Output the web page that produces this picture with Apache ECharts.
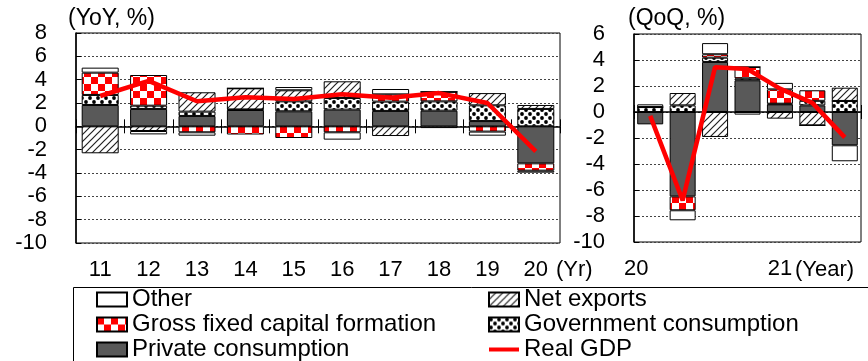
<!DOCTYPE html>
<html>
<head>
<meta charset="utf-8">
<script src="https://cdn.jsdelivr.net/npm/echarts@6/dist/echarts.min.js"></script>
<style>
  html, body { margin: 0; padding: 0; background: #fff; }
  #chart { width: 868px; height: 361px; }
</style>
</head>
<body>
<div id="chart"></div>
<script>
// ---- Annual contributions (YoY, %) ----
const years = ['11', '12', '13', '14', '15', '16', '17', '18', '19', '20'];
const yoyPrivate = [1.83, 1.49, 0.89, 1.40, 1.29, 1.43, 1.32, 1.34, 0.45, -3.17];
const yoyGov     = [0.86, 0.28, 0.37, 0.05, 0.85, 1.00, 0.80, 0.80, 1.35, 1.49];
const yoyGfcf    = [1.91, 2.63, -0.51, -0.70, -1.00, -0.51, 0.62, 0.82, -0.45, -0.63];
const yoyNetExp  = [-2.31, -0.40, 1.66, 1.81, 0.95, 1.43, -0.83, 0, 1.05, 0.34];
const yoyOther   = [0.43, -0.29, -0.29, 0, 0.28, -0.63, 0.46, -0.15, -0.35, -0.17];
const yoyGdp     = [2.6, 3.9, 2.15, 2.5, 2.35, 2.75, 2.45, 2.85, 2.0, -2.15];

// ---- Quarterly contributions (QoQ, %) ----
const quarters = ['20Q1', '20Q2', '20Q3', '20Q4', '21Q1', '21Q2', '21Q3'];
const quarterTickLabels = ['20', '', '', '', '21', '', ''];
const qPrivate = [-0.95, -6.49, 3.85, 2.44, 0.59, 0.51, -2.56];
const qGov     = [0.38, 0.51, 0.33, 0.15, 0.05, 0.35, 0.85];
const qGfcf    = [0, -1.07, 0.26, 0.87, 1.10, 0.81, 0];
const qNetExp  = [0, 0.95, -1.92, 0, -0.51, -1.03, 1.02];
const qOther   = [0.21, -0.77, 0.86, -0.20, 0.50, 0, -1.23];
const qGdp     = [-0.3, -6.8, 3.45, 3.3, 1.8, 0.7, -1.95];

const FONT = '"Liberation Sans", Arial, sans-serif';

// ---- Fill patterns ----
function makeCanvas(w, h, draw) {
  const c = document.createElement('canvas');
  c.width = w; c.height = h;
  const ctx = c.getContext('2d');
  ctx.fillStyle = '#fff';
  ctx.fillRect(0, 0, w, h);
  draw(ctx);
  return c;
}
const checkerCanvas = makeCanvas(14, 14, ctx => {
  ctx.fillStyle = '#ff0000';
  ctx.fillRect(0, 0, 7, 7);
  ctx.fillRect(7, 7, 7, 7);
});
const hatchCanvas = makeCanvas(7, 7, ctx => {
  ctx.strokeStyle = '#222';
  ctx.lineWidth = 1.2;
  ctx.beginPath();
  ctx.moveTo(-1, 8); ctx.lineTo(8, -1);
  ctx.moveTo(-1, 1); ctx.lineTo(1, -1);
  ctx.moveTo(6, 8); ctx.lineTo(8, 6);
  ctx.stroke();
});
const dotsCanvas = makeCanvas(8, 8, ctx => {
  ctx.fillStyle = '#000';
  [[2, 2], [6, 6]].forEach(([x, y]) => {
    ctx.beginPath();
    ctx.arc(x, y, 1.9, 0, Math.PI * 2);
    ctx.fill();
  });
});
const pattern = c => ({ image: c, repeat: 'repeat' });

const fills = {
  'Private consumption': '#595959',
  'Government consumption': pattern(dotsCanvas),
  'Gross fixed capital formation': pattern(checkerCanvas),
  'Net exports': pattern(hatchCanvas),
  'Other': '#ffffff'
};

function barSeries(name, data, xIdx, yIdx, stack, width) {
  return {
    name, type: 'bar', data, stack,
    xAxisIndex: xIdx, yAxisIndex: yIdx,
    barWidth: width,
    itemStyle: { color: fills[name], borderColor: '#000', borderWidth: 1 },
    emphasis: { disabled: true }
  };
}
function gdpLine(data, xIdx, yIdx) {
  return {
    name: 'Real GDP', type: 'line', data,
    xAxisIndex: xIdx, yAxisIndex: yIdx,
    symbol: 'none', z: 5,
    lineStyle: { color: '#ff0000', width: 4.5 },
    itemStyle: { color: '#ff0000' },
    emphasis: { disabled: true }
  };
}

const labelStyle = { fontFamily: FONT, fontSize: 22, color: '#000' };
const dotted = { show: true, lineStyle: { color: '#444', width: 1, type: [2, 2] } };

function valueAxis(grid, max, showIt) {
  return {
    type: 'value', gridIndex: grid, min: -10, max, interval: 2, show: showIt,
    axisLine: { show: true, lineStyle: { color: '#000', width: 1.5 } },
    axisTick: { show: true, inside: true, length: 5, lineStyle: { color: '#000' } },
    axisLabel: Object.assign({ margin: 29 }, labelStyle),
    splitLine: dotted
  };
}

const rightTickAt = idx => idx === 4;
const legendText = { fontFamily: FONT, fontSize: 24, lineHeight: 25, color: '#000' };

const option = {
  animation: false,
  backgroundColor: '#fff',
  grid: [
    { left: 76, top: 33, width: 484, height: 210, show: true, borderColor: '#000', borderWidth: 1 },
    { left: 76, top: 33, width: 484, height: 210 },
    { left: 634, top: 34, width: 227, height: 208, show: true, borderColor: '#000', borderWidth: 1 },
    { left: 634, top: 34, width: 227, height: 208 }
  ],
  yAxis: [
    valueAxis(0, 8, true),
    valueAxis(1, 8, false),
    valueAxis(2, 6, true),
    valueAxis(3, 6, false)
  ],
  xAxis: [
    // zero line with downward ticks (annual)
    { type: 'category', gridIndex: 0, data: years, position: 'bottom',
      axisLine: { onZero: true, onZeroAxisIndex: 0, lineStyle: { color: '#000', width: 1.5 } },
      axisTick: { show: true, length: 7, interval: 0, lineStyle: { color: '#000' } },
      axisLabel: { show: false } },
    // upward ticks on the zero line (annual)
    { type: 'category', gridIndex: 0, data: years, position: 'top',
      axisLine: { show: false, onZero: true, onZeroAxisIndex: 0 },
      axisTick: { show: true, length: 7, interval: 0, lineStyle: { color: '#000' } },
      axisLabel: { show: false } },
    // year labels under the annual panel
    { type: 'category', gridIndex: 1, data: years, position: 'bottom',
      axisLine: { show: false, onZero: false }, axisTick: { show: false },
      axisLabel: Object.assign({ margin: 16, interval: 0 }, labelStyle) },
    // zero line with downward tick (quarterly)
    { type: 'category', gridIndex: 2, data: quarters, position: 'bottom',
      axisLine: { onZero: true, onZeroAxisIndex: 2, lineStyle: { color: '#000', width: 1.5 } },
      axisTick: { show: true, length: 7, interval: rightTickAt, lineStyle: { color: '#000' } },
      axisLabel: { show: false } },
    // upward tick on the zero line (quarterly)
    { type: 'category', gridIndex: 2, data: quarters, position: 'top',
      axisLine: { show: false, onZero: true, onZeroAxisIndex: 2 },
      axisTick: { show: true, length: 7, interval: rightTickAt, lineStyle: { color: '#000' } },
      axisLabel: { show: false } },
    // year labels under the quarterly panel
    { type: 'category', gridIndex: 3, data: quarters, position: 'bottom',
      axisLine: { show: false, onZero: false }, axisTick: { show: false },
      axisLabel: Object.assign({
        margin: 16, interval: 0,
        formatter: (v, i) => i === 0 ? '{first|' + quarterTickLabels[i] + '}' : quarterTickLabels[i],
        rich: { first: { fontFamily: FONT, fontSize: 22, color: '#000', padding: [0, 28, 0, 0] } }
      }, labelStyle) }
  ],
  legend: [
    { left: 96, top: 287, height: 90, orient: 'vertical', padding: 0, itemGap: 0,
      itemWidth: 30, itemHeight: 14, selectedMode: false, textStyle: legendText,
      data: [
        { name: 'Other', icon: 'rect' },
        { name: 'Gross fixed capital formation', icon: 'rect' },
        { name: 'Private consumption', icon: 'rect' }
      ] },
    { left: 488, top: 287, height: 90, orient: 'vertical', padding: 0, itemGap: 0,
      itemWidth: 30, itemHeight: 14, selectedMode: false, textStyle: legendText,
      data: [
        { name: 'Net exports', icon: 'rect' },
        { name: 'Government consumption', icon: 'rect' },
        { name: 'Real GDP', icon: 'path://M0,0L30,0L30,4L0,4Z' }
      ] }
  ],
  graphic: [
    { type: 'text', left: 68, top: 7,
      style: { text: '(YoY, %)', font: '23px ' + FONT, fill: '#000' } },
    { type: 'text', left: 628, top: 7,
      style: { text: '(QoQ, %)', font: '23px ' + FONT, fill: '#000' } },
    { type: 'text', left: 556, top: 259,
      style: { text: '(Yr)', font: '22px ' + FONT, fill: '#000' } },
    { type: 'text', left: 795, top: 259,
      style: { text: '(Year)', font: '22px ' + FONT, fill: '#000' } },
    { type: 'rect', shape: { x: 73.5, y: 287.5, width: 820, height: 90 },
      style: { fill: 'none', stroke: '#000', lineWidth: 1 }, silent: true, z: -1 }
  ],
  series: [
    barSeries('Private consumption', yoyPrivate, 0, 0, 'yoy', 37),
    barSeries('Government consumption', yoyGov, 0, 0, 'yoy', 37),
    barSeries('Gross fixed capital formation', yoyGfcf, 0, 0, 'yoy', 37),
    barSeries('Net exports', yoyNetExp, 0, 0, 'yoy', 37),
    barSeries('Other', yoyOther, 0, 0, 'yoy', 37),
    gdpLine(yoyGdp, 0, 0),
    barSeries('Private consumption', qPrivate, 3, 2, 'qoq', 26),
    barSeries('Government consumption', qGov, 3, 2, 'qoq', 26),
    barSeries('Gross fixed capital formation', qGfcf, 3, 2, 'qoq', 26),
    barSeries('Net exports', qNetExp, 3, 2, 'qoq', 26),
    barSeries('Other', qOther, 3, 2, 'qoq', 26),
    gdpLine(qGdp, 3, 2)
  ]
};

const chart = echarts.init(document.getElementById('chart'), null, { renderer: 'canvas' });
chart.setOption(option);
</script>
</body>
</html>
